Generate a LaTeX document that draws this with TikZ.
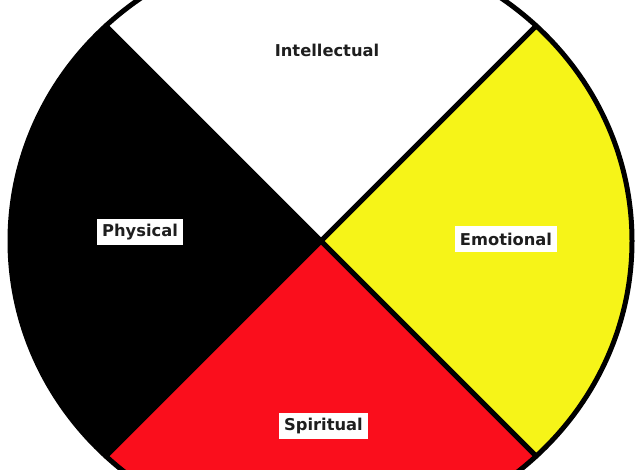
\documentclass[tikz,border=0pt]{standalone}
\usepackage{fontspec}
\setmainfont{DejaVu Sans}
\usetikzlibrary{calc}
\definecolor{wheelyellow}{RGB}{246,244,24}
\definecolor{wheelred}{RGB}{250,14,28}
\definecolor{txt}{RGB}{30,30,30}
\begin{document}
\begin{tikzpicture}[x=1pt,y=1pt,
  lbl/.style={font=\fontsize{16.3}{17}\selectfont\bfseries, text=txt, inner sep=0pt},
  lblbox/.style={lbl, fill=white, inner xsep=5pt, inner ysep=4pt, minimum height=26pt},
  rim/.style={line width=5pt, line cap=round, line join=round}]
\useasboundingbox (0,0) rectangle (635,470);
\clip (0,0) rectangle (635,470);
\fill[white] (0,0) rectangle (635,470);
\coordinate (C) at (321,229);
\coordinate (UR) at ($(C)+(46.22:311pt and 298pt)$);
\coordinate (UL) at ($(C)+(133.78:311pt and 298pt)$);
\coordinate (LL) at ($(C)+(226.22:311pt and 298pt)$);
\coordinate (LR) at ($(C)+(313.78:311pt and 298pt)$);
\begin{scope}
  \clip (C) ellipse [x radius=311pt, y radius=298pt];
  \fill[black] (C) -- ++(-500,500) -- ++(0,-1000) -- cycle;
  \fill[wheelyellow] (C) -- ++(500,500) -- ++(0,-1000) -- cycle;
  \fill[wheelred] (C) -- ++(-500,-500) -- ++(1000,0) -- cycle;
\end{scope}
\draw[rim] (UL) -- (C) -- (LR);
\draw[rim] (UR) -- (C) -- (LL);
\draw[rim] (C) ellipse [x radius=311pt, y radius=298pt];
\node[lbl] (intel) at (327,420) {Intellectual};
\node[lblbox] (phys) at (140,237.5) {Physical};
\node[lblbox] (emo) at (506,230.5) {Emotional};
\node[lblbox] (spir) at (323.5,43.5) {Spiritual};
\end{tikzpicture}
\end{document}
